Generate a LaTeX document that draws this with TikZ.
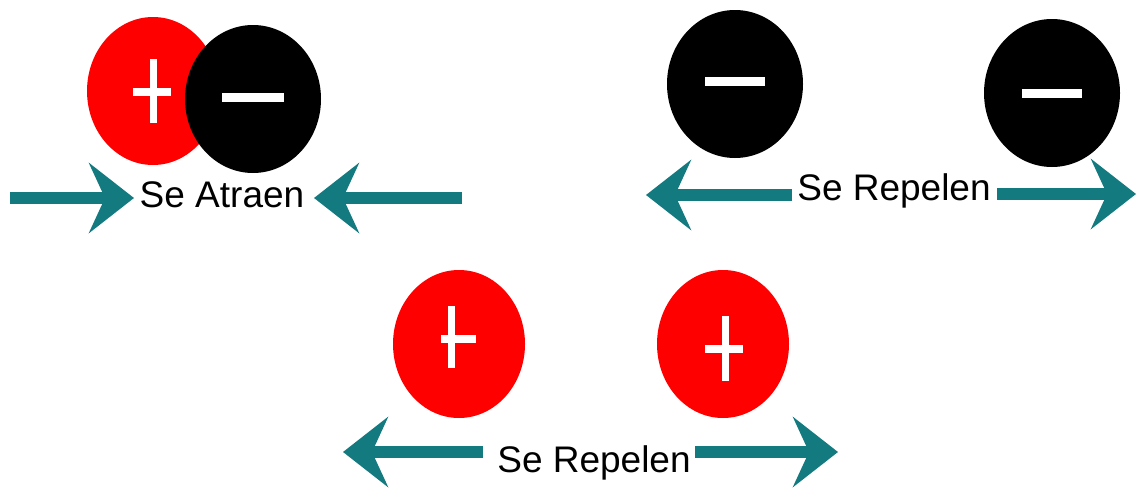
\documentclass[tikz,border=0pt]{standalone}
\usepackage{fontspec}
\setmainfont{Liberation Sans}
\usetikzlibrary{shapes.geometric,arrows.meta}
\definecolor{teal1}{RGB}{19,122,128}
\definecolor{chred}{RGB}{255,0,0}
\tikzset{
  poscharge/.style={ellipse, fill=chred, draw=none, minimum width=132pt, minimum height=148pt, inner sep=0pt},
  negcharge/.style={ellipse, fill=black, draw=none, minimum width=136pt, minimum height=148pt, inner sep=0pt},
  signline/.style={draw=white, line width=8pt},
  force/.style={draw=teal1, line width=12pt, -{Stealth[length=45pt, width=70pt, inset=16pt]}},
  lbl/.style={font=\fontsize{37}{40}\selectfont, anchor=base, inner sep=0pt, text=black}
}
\begin{document}
\begin{tikzpicture}[x=1pt, y=-1pt]
\useasboundingbox (0,0) rectangle (1138,490);
% --- Se Atraen ---
\node[poscharge] (p1) at (153,91) {};
\draw[signline] ([xshift=-20pt,yshift=-1pt]p1.center) -- ([xshift=18pt,yshift=-1pt]p1.center);
\draw[signline, line width=7pt] ([yshift=-32pt]p1.center) -- ([yshift=32pt]p1.center);
\node[negcharge] (n1) at (253,99) {};
\draw[signline, line width=9pt] ([xshift=-31pt,yshift=2pt]n1.center) -- ([xshift=31pt,yshift=2pt]n1.center);
\node[lbl] (t1) at (222,207) {Se Atraen};
\coordinate (a1s) at (10,198);
\coordinate (a1e) at (134,198);
\coordinate (a2s) at (462,198);
\coordinate (a2e) at (314,198);
\draw[force] (a1s) -- (a1e);
\draw[force] (a2s) -- (a2e);
% --- Se Repelen (negative) ---
\node[negcharge] (n2) at (735,84) {};
\draw[signline, line width=9pt] ([xshift=-30pt,yshift=3pt]n2.center) -- ([xshift=30pt,yshift=3pt]n2.center);
\node[negcharge] (n3) at (1052,93) {};
\draw[signline, line width=9pt] ([xshift=-30pt]n3.center) -- ([xshift=30pt]n3.center);
\node[lbl] (t2) at (894,200) {Se Repelen};
\coordinate (b1s) at (792,195);
\coordinate (b1e) at (646,195);
\coordinate (b2s) at (997,194);
\coordinate (b2e) at (1136,194);
\draw[force] (b1s) -- (b1e);
\draw[force] (b2s) -- (b2e);
% --- Se Repelen (positive) ---
\node[poscharge] (p2) at (459,344) {};
\draw[signline] ([xshift=-18pt,yshift=5pt]p2.center) -- ([xshift=17pt,yshift=5pt]p2.center);
\draw[signline, line width=7pt] ([xshift=-8pt,yshift=-24pt]p2.center) -- ([xshift=-8pt,yshift=38pt]p2.center);
\node[poscharge] (p3) at (723,344) {};
\draw[signline] ([xshift=-18pt,yshift=-5pt]p3.center) -- ([xshift=20pt,yshift=-5pt]p3.center);
\draw[signline, line width=7pt] ([xshift=2pt,yshift=-37pt]p3.center) -- ([xshift=2pt,yshift=28pt]p3.center);
\node[lbl] (t3) at (594,472) {Se Repelen};
\coordinate (c1s) at (483,452);
\coordinate (c1e) at (343,452);
\coordinate (c2s) at (695,452);
\coordinate (c2e) at (838,452);
\draw[force] (c1s) -- (c1e);
\draw[force] (c2s) -- (c2e);
\end{tikzpicture}
\end{document}
